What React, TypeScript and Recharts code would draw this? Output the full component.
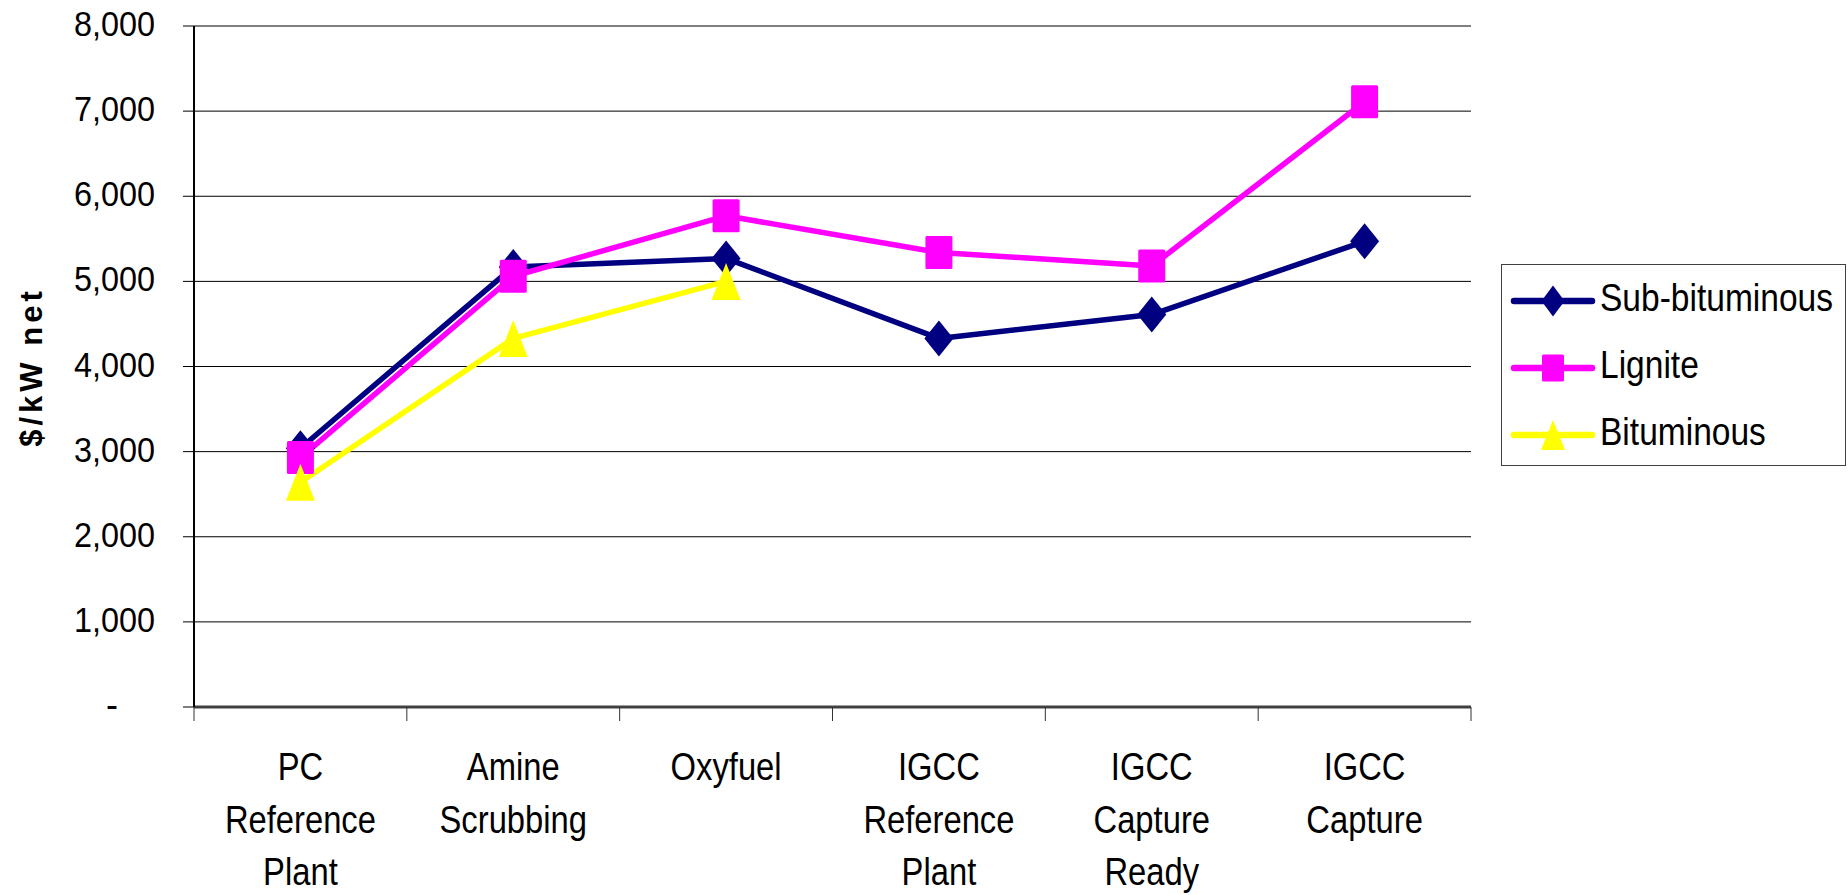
import { LineChart, Line, XAxis, YAxis, CartesianGrid, Legend } from "recharts";

// plant configurations along the x axis ("\n" splits the label lines)
const categories = [
  "PC\nReference\nPlant",
  "Amine\nScrubbing",
  "Oxyfuel",
  "IGCC\nReference\nPlant",
  "IGCC\nCapture\nReady",
  "IGCC\nCapture",
];

// capital cost, $/kW net
const subBituminous = [3040, 5170, 5270, 4330, 4610, 5470];
const lignite = [2930, 5060, 5770, 5340, 5180, 7110];
const bituminous = [2640, 4330, 5000, null, null, null];

const yTicks = [0, 1000, 2000, 3000, 4000, 5000, 6000, 7000, 8000];

const series = [
  { key: "sub", name: "Sub-bituminous", color: "#000080", shape: "diamond" },
  { key: "lig", name: "Lignite", color: "#FF00FF", shape: "square" },
  { key: "bit", name: "Bituminous", color: "#FFFF00", shape: "triangle" },
];

const data = categories.map((name, i) => ({
  name,
  sub: subBituminous[i],
  lig: lignite[i],
  bit: bituminous[i],
}));

const W = 1848;
const H = 895;
const PLOT_LEFT = 194;
const PLOT_RIGHT = 1471;
const PLOT_TOP = 26;
const PLOT_BOTTOM = 707;
// half a category band: points sit in the middle of each band
const BAND_PAD = (PLOT_RIGHT - PLOT_LEFT) / 12;

const FONT = "'Liberation Sans', Arial, sans-serif";

function Marker({ shape, cx, cy, color, w, h }: any) {
  if (shape === "diamond") {
    return (
      <polygon
        points={`${cx},${cy - h / 2} ${cx + w / 2},${cy} ${cx},${cy + h / 2} ${cx - w / 2},${cy}`}
        fill={color}
      />
    );
  }
  if (shape === "square") {
    return <rect x={cx - w / 2} y={cy - h / 2} width={w} height={h} rx={1.5} fill={color} />;
  }
  return (
    <polygon
      points={`${cx},${cy - h / 2} ${cx + w / 2},${cy + h / 2} ${cx - w / 2},${cy + h / 2}`}
      fill={color}
    />
  );
}

const markerSize: Record<string, [number, number]> = {
  diamond: [29, 36],
  square: [27, 33],
  triangle: [29, 37],
};

const legendMarkerSize: Record<string, [number, number]> = {
  diamond: [23, 31],
  square: [22, 27],
  triangle: [24, 30],
};

function YTick({ x, y, payload }: any) {
  const v = payload.value as number;
  if (v === 0) {
    return (
      <text x={118} y={y + 10} textAnchor="end" fontSize={36} fontFamily={FONT} fill="#000">
        -
      </text>
    );
  }
  return (
    <text
      transform={`translate(${x},${y + 10}) scale(0.9,1)`}
      textAnchor="end"
      fontSize={36}
      fontFamily={FONT}
      fill="#000"
    >
      {v.toLocaleString("en-US")}
    </text>
  );
}

// category label plus the tick marks on the band edges
function CategoryTick({ x, y, payload, index }: any) {
  const lines = String(payload.value).split("\n");
  const last = index === categories.length - 1;
  return (
    <g transform={`translate(${x},${y})`}>
      <line x1={-BAND_PAD} x2={-BAND_PAD} y1={0} y2={14} stroke="#333" strokeWidth={1} />
      {last && <line x1={BAND_PAD} x2={BAND_PAD} y1={0} y2={14} stroke="#333" strokeWidth={1} />}
      {lines.map((line, i) => (
        <text
          key={i}
          transform={`translate(0,${73 + i * 52.5}) scale(0.84,1)`}
          textAnchor="middle"
          fontSize={39}
          fontFamily={FONT}
          fill="#000"
        >
          {line}
        </text>
      ))}
    </g>
  );
}

function YTitle() {
  return (
    <text
      transform="translate(42,367) rotate(-90)"
      textAnchor="middle"
      fontSize={31}
      fontWeight="bold"
      letterSpacing={4}
      fontFamily={FONT}
      fill="#000"
    >
      $/kW net
    </text>
  );
}

function LegendBox() {
  return (
    <div
      style={{
        width: 345,
        height: 202,
        border: "1.5px solid #404040",
        boxSizing: "border-box",
        background: "#fff",
      }}
    >
      <svg width={342} height={199}>
        {series.map((s, i) => {
          const cy = 36 + i * 67;
          const [w, h] = legendMarkerSize[s.shape];
          return (
            <g key={s.key}>
              <line x1={12} x2={90} y1={cy} y2={cy} stroke={s.color} strokeWidth={6.5} strokeLinecap="round" />
              <Marker shape={s.shape} cx={51} cy={cy} color={s.color} w={w} h={h} />
              <text
                transform={`translate(98,${cy + 10}) scale(0.86,1)`}
                fontSize={39}
                fontFamily={FONT}
                fill="#000"
              >
                {s.name}
              </text>
            </g>
          );
        })}
      </svg>
    </div>
  );
}

export default function App() {
  return (
    <div style={{ position: "absolute", left: 0, top: 0, width: W, height: H, background: "#fff" }}>
      <LineChart
        width={W}
        height={H}
        data={data}
        margin={{ top: PLOT_TOP, right: W - PLOT_RIGHT, bottom: 0, left: 0 }}
      >
        <CartesianGrid
          xAxisId="cat"
          yAxisId="left"
          vertical={false}
          stroke="#000"
          strokeWidth={1}
        />
        <XAxis
          xAxisId="cat"
          dataKey="name"
          interval={0}
          height={H - PLOT_BOTTOM}
          padding={{ left: BAND_PAD, right: BAND_PAD }}
          tick={CategoryTick}
          tickLine={false}
          tickSize={0}
          tickMargin={0}
          axisLine={{ stroke: "#404040", strokeWidth: 3 }}
        />
        <XAxis
          xAxisId="top"
          orientation="top"
          type="number"
          domain={[0, 6]}
          allowDataOverflow
          height={0}
          tick={false}
          tickLine={false}
          axisLine={{ stroke: "#808080", strokeWidth: 3 }}
        />
        <YAxis
          yAxisId="left"
          width={PLOT_LEFT}
          domain={[0, 8000]}
          ticks={yTicks}
          interval={0}
          tickSize={11}
          tickMargin={28}
          tick={YTick}
          tickLine={{ stroke: "#000" }}
          axisLine={{ stroke: "#000", strokeWidth: 2 }}
          label={<YTitle />}
        />
        <YAxis
          yAxisId="right"
          orientation="right"
          width={0}
          domain={[0, 8000]}
          allowDataOverflow
          tick={false}
          tickLine={false}
          axisLine={{ stroke: "#9a9a9a", strokeWidth: 3 }}
        />
        <Legend
          layout="vertical"
          align="center"
          verticalAlign="middle"
          wrapperStyle={{ left: 1501, top: 264, width: 345, height: 202 }}
          content={<LegendBox />}
        />
        {series.map((s) => (
          <Line
            key={s.key}
            xAxisId="cat"
            yAxisId="left"
            type="linear"
            dataKey={s.key}
            name={s.name}
            stroke={s.color}
            strokeWidth={5.5}
            strokeLinejoin="round"
            connectNulls={false}
            isAnimationActive={false}
            activeDot={false}
            dot={(p: any) => {
              if (p.cy == null || p.value == null) return <g key={`${s.key}-${p.index}`} />;
              const [w, h] = markerSize[s.shape];
              return (
                <Marker
                  key={`${s.key}-${p.index}`}
                  shape={s.shape}
                  cx={p.cx}
                  cy={p.cy}
                  color={s.color}
                  w={w}
                  h={h}
                />
              );
            }}
          />
        ))}
      </LineChart>
    </div>
  );
}
